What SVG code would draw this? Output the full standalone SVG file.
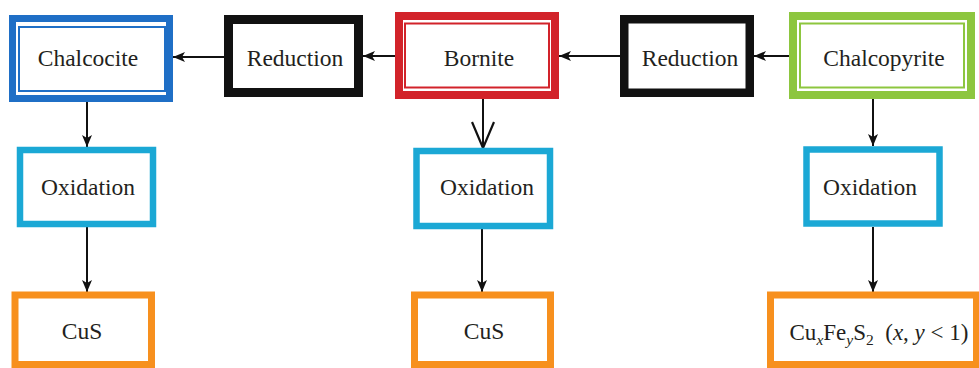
<svg xmlns="http://www.w3.org/2000/svg" width="979" height="368" viewBox="0 0 979 368">
<defs>
<style>
text{font-family:"Liberation Serif","Times New Roman",serif;font-size:23.5px;fill:#231f20;text-anchor:middle}
.box{fill:#fff}
.blue{stroke:#1f6fc6}
.red{stroke:#d2232a}
.green{stroke:#8dc63f}
.blk{stroke:#111}
.cyan{stroke:#1ba8d5}
.orange{stroke:#f7901e}
.thick{stroke-width:7}
.red2{stroke-width:8}
.thin{fill:none;stroke-width:2}
.conn{stroke:#111;stroke-width:2;fill:none}
.i{font-style:italic}
</style>
<marker id="ah" viewBox="0 0 12 10" refX="12" refY="5" markerWidth="12" markerHeight="10" markerUnits="userSpaceOnUse" orient="auto">
<path d="M0,0 L12,5 L0,10 L3,5 z" fill="#111"/>
</marker>
<marker id="va" viewBox="0 0 28 24" refX="27" refY="12" markerWidth="28" markerHeight="24" markerUnits="userSpaceOnUse" orient="auto">
<path d="M1,1 L27,12 L1,23" fill="none" stroke="#111" stroke-width="2.2"/>
</marker>
</defs>

<g id="connectors">
<line class="conn" x1="224" y1="57" x2="173" y2="57" marker-end="url(#ah)"/>
<line class="conn" x1="395" y1="56" x2="363" y2="56" marker-end="url(#ah)"/>
<line class="conn" x1="620" y1="56" x2="559" y2="56" marker-end="url(#ah)"/>
<line class="conn" x1="789" y1="56" x2="754" y2="56" marker-end="url(#ah)"/>
<line class="conn" x1="87" y1="102" x2="87" y2="147" marker-end="url(#ah)"/>
<line class="conn" x1="87" y1="227" x2="87" y2="292" marker-end="url(#ah)"/>
<line class="conn" x1="483" y1="99" x2="483" y2="148" marker-end="url(#va)"/>
<line class="conn" x1="482" y1="229" x2="482" y2="292" marker-end="url(#ah)"/>
<line class="conn" x1="873" y1="99" x2="873" y2="146" marker-end="url(#ah)"/>
<line class="conn" x1="873" y1="227" x2="873" y2="292" marker-end="url(#ah)"/>
</g>

<g id="chalcocite">
<rect class="box blue thick" x="12.5" y="18.5" width="157" height="80"/>
<rect class="thin blue" x="19" y="27" width="146" height="64"/>
<text x="88" y="66">Chalcocite</text>
</g>

<g id="reduction1">
<rect class="box blk" stroke-width="9" x="228.5" y="19.5" width="130" height="73"/>
<text x="295" y="66">Reduction</text>
</g>

<g id="bornite">
<rect class="box red red2" x="399" y="16" width="156" height="79"/>
<rect class="thin red" x="405" y="23.5" width="144" height="64"/>
<text x="479" y="66">Bornite</text>
</g>

<g id="reduction2">
<rect class="box blk" stroke-width="8.5" x="624.25" y="19.25" width="125.5" height="73.5"/>
<text x="690" y="66">Reduction</text>
</g>

<g id="chalcopyrite">
<rect class="box green red2" x="793" y="16" width="178" height="79"/>
<rect class="thin green" x="800" y="23.5" width="164" height="64"/>
<text x="884" y="66">Chalcopyrite</text>
</g>

<g id="oxidation1">
<rect class="box cyan" stroke-width="6.5" x="20" y="150" width="133" height="74"/>
<text x="88" y="195">Oxidation</text>
</g>

<g id="oxidation2">
<rect class="box cyan" stroke-width="6.5" x="416.5" y="151" width="133.5" height="75"/>
<text x="487" y="195">Oxidation</text>
</g>

<g id="oxidation3">
<rect class="box cyan" stroke-width="6.5" x="806.5" y="149.5" width="133" height="74"/>
<text x="870" y="195">Oxidation</text>
</g>

<g id="cus1">
<rect class="box orange" stroke-width="7" x="15" y="295" width="136.5" height="69.5"/>
<text x="82" y="339">CuS</text>
</g>

<g id="cus2">
<rect class="box orange" stroke-width="7" x="414.5" y="295" width="136" height="69.5"/>
<text x="484" y="339">CuS</text>
</g>

<g id="cufes2">
<rect class="box orange" stroke-width="7" x="770.5" y="295" width="206" height="69.5"/>
<text x="879" y="340" style="font-size:23px">Cu<tspan class="i" font-size="15.5" dy="5">x</tspan><tspan dy="-5">Fe</tspan><tspan class="i" font-size="15.5" dy="5">y</tspan><tspan dy="-5">S</tspan><tspan font-size="15.5" dy="5">2</tspan><tspan dy="-5" xml:space="preserve">  (</tspan><tspan class="i">x</tspan>, <tspan class="i">y</tspan> &lt; 1)</text>
</g>
</svg>
